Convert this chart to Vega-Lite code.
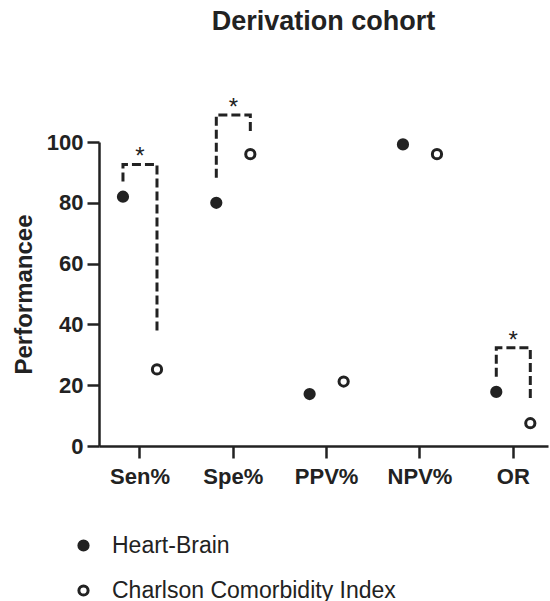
{
  "$schema": "https://vega.github.io/schema/vega-lite/v6.json",
  "autosize": "none",
  "width": 449,
  "height": 304,
  "padding": {"left": 99, "top": 142, "right": 2, "bottom": 155},
  "title": {"text": "Derivation cohort", "fontSize": 27, "font": "Liberation Sans", "fontWeight": "bold", "color": "#222", "offset": 60, "anchor": "middle"},
  "config": {
    "view": {"stroke": null},
    "font": "Liberation Sans",
    "axis": {
      "domainColor": "#222", "domainWidth": 2.5, "tickColor": "#222", "tickWidth": 2.5, "tickSize": 12,
      "labelFont": "Liberation Sans", "labelFontSize": 22, "labelFontWeight": "bold", "labelColor": "#222",
      "titleFont": "Liberation Sans", "titleFontSize": 24, "titleFontWeight": "bold", "titleColor": "#222",
      "grid": false
    }
  },
  "datasets": {
    "points": [
      {"metric": "Sen%", "series": "Heart-Brain", "value": 82},
      {"metric": "Sen%", "series": "Charlson Comorbidity Index", "value": 25.2},
      {"metric": "Spe%", "series": "Heart-Brain", "value": 80},
      {"metric": "Spe%", "series": "Charlson Comorbidity Index", "value": 96},
      {"metric": "PPV%", "series": "Heart-Brain", "value": 17.1},
      {"metric": "PPV%", "series": "Charlson Comorbidity Index", "value": 21.2},
      {"metric": "NPV%", "series": "Heart-Brain", "value": 99.2},
      {"metric": "NPV%", "series": "Charlson Comorbidity Index", "value": 96},
      {"metric": "OR", "series": "Heart-Brain", "value": 17.8},
      {"metric": "OR", "series": "Charlson Comorbidity Index", "value": 7.5}
    ],
    "brackets": [
      {"br": "Sen", "metric": "Sen%", "series": "Heart-Brain", "value": 87, "ord": 1},
      {"br": "Sen", "metric": "Sen%", "series": "Heart-Brain", "value": 92.6, "ord": 2},
      {"br": "Sen", "metric": "Sen%", "series": "Charlson Comorbidity Index", "value": 92.6, "ord": 3},
      {"br": "Sen", "metric": "Sen%", "series": "Charlson Comorbidity Index", "value": 37, "ord": 4},
      {"br": "Spe", "metric": "Spe%", "series": "Heart-Brain", "value": 88.2, "ord": 1},
      {"br": "Spe", "metric": "Spe%", "series": "Heart-Brain", "value": 108.9, "ord": 2},
      {"br": "Spe", "metric": "Spe%", "series": "Charlson Comorbidity Index", "value": 108.9, "ord": 3},
      {"br": "Spe", "metric": "Spe%", "series": "Charlson Comorbidity Index", "value": 102.3, "ord": 4},
      {"br": "OR", "metric": "OR", "series": "Heart-Brain", "value": 22.8, "ord": 1},
      {"br": "OR", "metric": "OR", "series": "Heart-Brain", "value": 32.3, "ord": 2},
      {"br": "OR", "metric": "OR", "series": "Charlson Comorbidity Index", "value": 32.3, "ord": 3},
      {"br": "OR", "metric": "OR", "series": "Charlson Comorbidity Index", "value": 15.8, "ord": 4}
    ],
    "stars": [
      {"metric": "Sen%", "value": 92.6, "label": "*"},
      {"metric": "Spe%", "value": 108.9, "label": "*"},
      {"metric": "OR", "value": 32.3, "label": "*"}
    ]
  },
  "layer": [
    {
      "data": {"name": "brackets"},
      "mark": {"type": "line", "strokeDash": [9, 4], "strokeWidth": 3, "color": "#222"},
      "encoding": {
        "x": {"field": "metric", "type": "nominal", "scale": {"type": "band", "domain": ["Sen%", "Spe%", "PPV%", "NPV%", "OR"], "paddingInner": 0.271, "paddingOuter": 0.041, "align": 0.91}, "axis": {"title": null, "labelAngle": 0, "labelPadding": 8}},
        "xOffset": {"field": "series", "type": "nominal", "scale": {"type": "point", "domain": ["Heart-Brain", "Charlson Comorbidity Index"], "padding": 0.5}},
        "y": {"field": "value", "type": "quantitative", "scale": {"domain": [0, 100], "nice": false}, "axis": {"title": "Performancee", "values": [0, 20, 40, 60, 80, 100], "labelPadding": 4, "titlePadding": 10}},
        "order": {"field": "ord", "type": "quantitative"},
        "detail": {"field": "br", "type": "nominal"}
      }
    },
    {
      "data": {"name": "stars"},
      "mark": {"type": "text", "fontSize": 24, "baseline": "alphabetic", "align": "center", "color": "#222", "font": "Liberation Sans"},
      "encoding": {
        "x": {"field": "metric", "type": "nominal"},
        "y": {"field": "value", "type": "quantitative"},
        "text": {"field": "label"}
      }
    },
    {
      "data": {"name": "points"},
      "mark": {"type": "point", "shape": "circle", "stroke": "#222", "strokeWidth": 3, "size": 85, "opacity": 1},
      "encoding": {
        "x": {"field": "metric", "type": "nominal"},
        "xOffset": {"field": "series", "type": "nominal"},
        "y": {"field": "value", "type": "quantitative"},
        "fill": {"field": "series", "type": "nominal", "scale": {"domain": ["Heart-Brain", "Charlson Comorbidity Index"], "range": ["#222", "#ffffff"]},
          "legend": {"title": null, "orient": "none", "legendX": -27, "legendY": 392, "labelFontSize": 23, "labelFont": "Liberation Sans", "labelColor": "#222", "symbolType": "circle", "symbolSize": 85, "symbolStrokeColor": "#222", "symbolStrokeWidth": 3, "rowPadding": 21, "labelOffset": 17, "padding": 0, "labelLimit": 400}}
      }
    }
  ]
}
